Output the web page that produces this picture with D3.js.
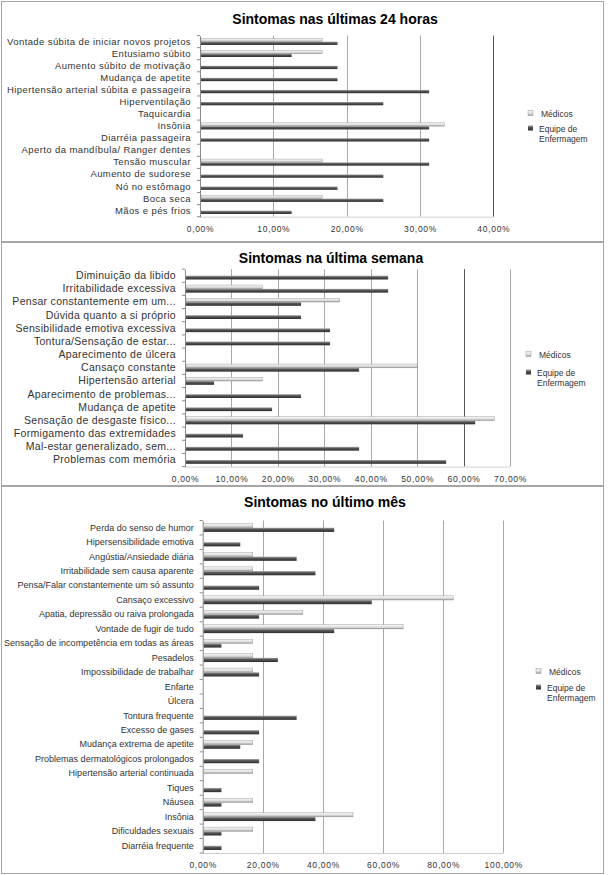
<!DOCTYPE html>
<html lang="pt">
<head>
	<meta charset="utf-8">
	<script src="https://cdn.jsdelivr.net/npm/d3@7"></script>
	<style>
		body{ margin:0; background:white; }
		text{ font-family:"Liberation Sans", Arial, sans-serif; }
		.title{ font-weight:bold; font-size:14px; fill:black; }
		.cat text{ fill:#333; }
		.xax text{ fill:#333; font-size:8.5px; letter-spacing:0.7px; }
		.leg{ font-size:8.5px; fill:#333; }
	</style>
</head>
<body>
	<script>
		// Sintomas nas últimas 24 horas
		var cats24 = ["Vontade súbita de iniciar novos projetos", "Entusiamo súbito", "Aumento súbito de motivação",
			"Mudança de apetite", "Hipertensão arterial súbita e passageira", "Hiperventilação", "Taquicardia",
			"Insônia", "Diarréia passageira", "Aperto da mandíbula/ Ranger dentes", "Tensão muscular",
			"Aumento de sudorese", "Nó no estômago", "Boca seca", "Mãos e pés frios"];
		var med24 = [16.67, 16.67, 0, 0, 0, 0, 0, 33.33, 0, 0, 16.67, 0, 0, 16.67, 0];
		var enf24 = [18.75, 12.5, 18.75, 18.75, 31.25, 25, 0, 31.25, 31.25, 0, 31.25, 25, 18.75, 25, 12.5];
		var ticks24 = ["0,00%", "10,00%", "20,00%", "30,00%", "40,00%"];

		// Sintomas na última semana
		var catsSem = ["Diminuição da libido", "Irritabilidade excessiva", "Pensar constantemente em um...",
			"Dúvida quanto a si próprio", "Sensibilidade emotiva excessiva", "Tontura/Sensação de estar...",
			"Aparecimento de úlcera", "Cansaço constante", "Hipertensão arterial", "Aparecimento de problemas...",
			"Mudança de apetite", "Sensação de desgaste físico...", "Formigamento das extremidades",
			"Mal-estar generalizado, sem...", "Problemas com memória"];
		var medSem = [0, 16.67, 33.33, 0, 0, 0, 0, 50, 16.67, 0, 0, 66.67, 0, 0, 0];
		var enfSem = [43.75, 43.75, 25, 25, 31.25, 31.25, 0, 37.5, 6.25, 25, 18.75, 62.5, 12.5, 37.5, 56.25];
		var ticksSem = ["0,00%", "10,00%", "20,00%", "30,00%", "40,00%", "50,00%", "60,00%", "70,00%"];

		// Sintomas no último mês
		var catsMes = ["Perda do senso de humor", "Hipersensibilidade emotiva", "Angústia/Ansiedade diária",
			"Irritabilidade sem causa aparente", "Pensa/Falar constantemente um só assunto", "Cansaço excessivo",
			"Apatia, depressão ou raiva prolongada", "Vontade de fugir de tudo",
			"Sensação de incompetência em todas as áreas", "Pesadelos", "Impossibilidade de trabalhar",
			"Enfarte", "Úlcera", "Tontura frequente", "Excesso de gases", "Mudança extrema de apetite",
			"Problemas dermatológicos prolongados", "Hipertensão arterial continuada", "Tiques", "Náusea",
			"Insônia", "Dificuldades sexuais", "Diarréia frequente"];
		var medMes = [16.67, 0, 16.67, 16.67, 0, 83.33, 33.33, 66.67, 16.67, 16.67, 16.67, 0, 0, 0, 0, 16.67,
			0, 16.67, 0, 16.67, 50, 16.67, 0];
		var enfMes = [43.75, 12.5, 31.25, 37.5, 18.75, 56.25, 18.75, 43.75, 6.25, 25, 18.75, 0, 0, 31.25, 18.75,
			12.5, 18.75, 0, 6.25, 6.25, 37.5, 6.25, 6.25];
		var ticksMes = ["0,00%", "20,00%", "40,00%", "60,00%", "80,00%", "100,00%"];

		var series = ["Médicos", "Equipe de Enfermagem"];

		var width = 608, height = 875;
		var svg = d3.select("body").append("svg")
			.attr("width", width)
			.attr("height", height);

		var defs = svg.append("defs");
		var gDark = defs.append("linearGradient").attr("id", "gDark")
			.attr("x1", 0).attr("y1", 0).attr("x2", 0).attr("y2", 1);
		gDark.append("stop").attr("offset", "0%").attr("stop-color", "#a8a8a8");
		gDark.append("stop").attr("offset", "40%").attr("stop-color", "#555");
		gDark.append("stop").attr("offset", "100%").attr("stop-color", "#2e2e2e");
		var gLight = defs.append("linearGradient").attr("id", "gLight")
			.attr("x1", 0).attr("y1", 0).attr("x2", 0).attr("y2", 1);
		gLight.append("stop").attr("offset", "0%").attr("stop-color", "#fafafa");
		gLight.append("stop").attr("offset", "60%").attr("stop-color", "#dcdcdc");
		gLight.append("stop").attr("offset", "100%").attr("stop-color", "#9a9a9a");

		drawPanel({ box: [1, 1, 602, 240], title: "Sintomas nas últimas 24 horas", titleX: 335, titleY: 23.5,
			cats: cats24, med: med24, enf: enf24, ticks: ticks24, max: 40,
			x0: 200, x1: 493.3, top: 35.6, bottom: 216.7, font: 9.5, ls: 0.4, barH: 3.3, dark: 40,
			leg: [528, 114, 129] });
		drawPanel({ box: [1, 242, 602, 243], title: "Sintomas na última semana", titleX: 331, titleY: 263,
			cats: catsSem, med: medSem, enf: enfSem, ticks: ticksSem, max: 70,
			x0: 185, x1: 510, top: 269.1, bottom: 466.6, font: 10.5, ls: 0.3, barH: 3.8, dark: 60,
			leg: [526, 355, 373] });
		drawPanel({ box: [1, 486, 602, 387], title: "Sintomas no último mês", titleX: 325, titleY: 507,
			cats: catsMes, med: medMes, enf: enfMes, ticks: ticksMes, max: 100,
			x0: 202.7, x1: 503.3, top: 520.5, bottom: 853, font: 9, ls: 0, barH: 4.2, dark: null,
			leg: [536, 672, 688] });

		function drawPanel(p){
			var g = svg.append("g");
			g.append("rect")
				.attr("x", p.box[0] + 0.5).attr("y", p.box[1] + 0.5)
				.attr("width", p.box[2]).attr("height", p.box[3])
				.attr("fill", "white").attr("stroke", "#a6a6a6");

			g.append("text").attr("class", "title")
				.attr("x", p.titleX).attr("y", p.titleY)
				.attr("text-anchor", "middle")
				.text(p.title);

			var x = d3.scaleLinear().domain([0, p.max]).range([p.x0, p.x1]);
			var y = d3.scaleBand().domain(p.cats).range([p.top, p.bottom]).paddingInner(0);
			var tickVals = p.ticks.map(function(t){ return parseFloat(t.replace(",", ".")); });

			// linhas de grade
			g.selectAll("line.grid")
				.data(tickVals.slice(1)).enter()
				.append("line")
				.attr("x1", function(d){ return Math.round(x(d)) + 0.5; })
				.attr("x2", function(d){ return Math.round(x(d)) + 0.5; })
				.attr("y1", p.top).attr("y2", p.bottom)
				.attr("stroke", function(d){ return d === p.dark ? "#555" : "#a8a8a8"; })
				.attr("stroke-width", 1);

			g.append("line")
				.attr("x1", p.x0).attr("x2", p.x1)
				.attr("y1", p.bottom + 0.5).attr("y2", p.bottom + 0.5)
				.attr("stroke", "#d0d0d0");

			// eixo x
			var xAxis = d3.axisBottom(x)
				.tickValues(tickVals)
				.tickSize(0).tickPadding(9)
				.tickFormat(function(d, i){ return p.ticks[i]; });
			var xa = g.append("g").attr("class", "xax")
				.attr("transform", "translate(0," + p.bottom + ")")
				.call(xAxis);
			xa.select(".domain").remove();
			xa.selectAll("text").style("font-family", "Liberation Sans, Arial, sans-serif");

			// eixo y
			var yAxis = d3.axisLeft(y).tickSize(0).tickPadding(9);
			var ya = g.append("g").attr("class", "cat")
				.attr("transform", "translate(" + p.x0 + ",0)")
				.call(yAxis);
			ya.select(".domain").attr("stroke", "#8a8a8a");
			ya.selectAll("text")
				.style("font-family", "Liberation Sans, Arial, sans-serif")
				.style("font-size", p.font + "px")
				.style("letter-spacing", p.ls + "px");

			var bounds = p.cats.map(function(c){ return y(c); }).concat([p.bottom]);
			g.selectAll("line.ytick")
				.data(bounds).enter()
				.append("line")
				.attr("x1", p.x0 - 3).attr("x2", p.x0)
				.attr("y1", function(d){ return d; })
				.attr("y2", function(d){ return d; })
				.attr("stroke", "#8a8a8a");

			var rows = p.cats.map(function(c, i){ return { cat: c, med: p.med[i], enf: p.enf[i] }; });
			var mid = function(d){ return y(d.cat) + y.bandwidth() / 2; };

			g.selectAll("rect.med")
				.data(rows.filter(function(d){ return d.med > 0; })).enter()
				.append("rect")
				.attr("x", p.x0 + 1)
				.attr("y", function(d){ return mid(d) - p.barH; })
				.attr("width", function(d){ return x(d.med) - p.x0 - 1; })
				.attr("height", p.barH)
				.attr("fill", "url(#gLight)")
				.attr("stroke", "#8c8c8c").attr("stroke-width", 0.4);

			g.selectAll("rect.enf")
				.data(rows.filter(function(d){ return d.enf > 0; })).enter()
				.append("rect")
				.attr("x", p.x0 + 1)
				.attr("y", function(d){ return mid(d); })
				.attr("width", function(d){ return x(d.enf) - p.x0 - 1; })
				.attr("height", p.barH)
				.attr("fill", "url(#gDark)");

			// legenda
			var lx = p.leg[0];
			g.append("rect").attr("x", lx).attr("y", p.leg[1] - 3.5).attr("width", 5).attr("height", 5)
				.attr("fill", "url(#gLight)").attr("stroke", "#999").attr("stroke-width", 0.5);
			g.append("text").attr("class", "leg")
				.attr("x", lx + 13).attr("y", p.leg[1] + 3)
				.text(series[0]);
			g.append("rect").attr("x", lx).attr("y", p.leg[2] - 3.5).attr("width", 5).attr("height", 5)
				.attr("fill", "url(#gDark)");
			g.append("text").attr("class", "leg")
				.attr("x", lx + 11).attr("y", p.leg[2] + 3)
				.text("Equipe de");
			g.append("text").attr("class", "leg")
				.attr("x", lx + 11).attr("y", p.leg[2] + 13)
				.text("Enfermagem");
		}
	</script>
</body>
</html>
